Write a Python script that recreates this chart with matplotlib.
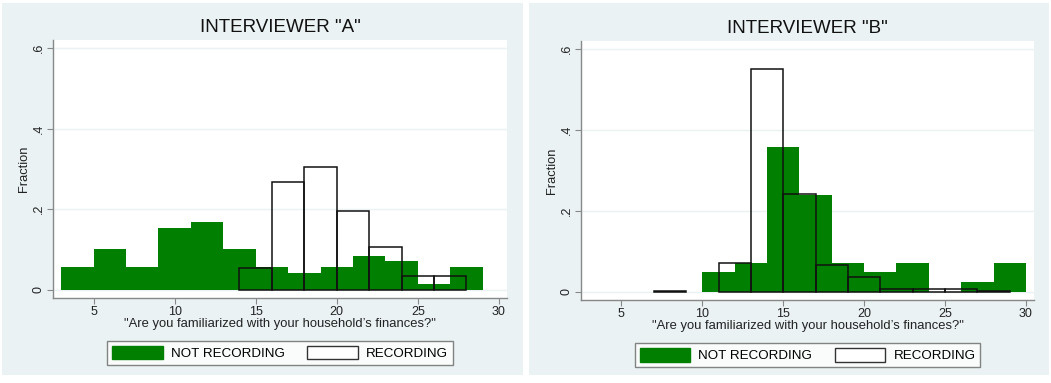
import numpy as np
import matplotlib.pyplot as plt
from matplotlib.patches import Rectangle, Patch

plt.rcParams['font.family'] = ['Liberation Sans', 'DejaVu Sans']

# interviewer A
a_not_start = [3, 5, 7, 9, 11, 13, 15, 17, 19, 21, 23, 25, 27]
a_not_frac = [0.056, 0.101, 0.056, 0.154, 0.169, 0.101, 0.056, 0.043, 0.056, 0.085, 0.071, 0.014, 0.056]
a_rec_start = [14, 16, 18, 20, 22, 24, 26]
a_rec_frac = [0.055, 0.268, 0.304, 0.197, 0.107, 0.035, 0.035]

# interviewer B
b_not_start = [10, 12, 14, 16, 18, 20, 22, 24, 26, 28]
b_not_frac = [0.049, 0.071, 0.358, 0.240, 0.071, 0.049, 0.071, 0.0, 0.025, 0.071]
b_rec_start = [7, 11, 13, 15, 17, 19, 21, 23, 25, 27]
b_rec_frac = [0.003, 0.072, 0.551, 0.241, 0.067, 0.036, 0.008, 0.008, 0.008, 0.003]

bin_w = 2
titles = ['INTERVIEWER "A"', 'INTERVIEWER "B"']
xlabel = '"Are you familiarized with your household\u2019s finances?"'

BG = '#eaf2f3'
GREEN = '#007f00'
W, H = 1051, 383

fig = plt.figure(figsize=(W / 100, H / 100), dpi=100)
fig.patch.set_facecolor('white')

def px(x0, y0, x1, y1):
    return [x0 / W, 1 - y1 / H, (x1 - x0) / W, (y1 - y0) / H]

panels = [(2, 3, 523, 375), (529, 3, 1049, 375)]
axes_px = [(53, 40, 507, 298), (581, 41, 1034, 300)]
data = [(a_not_start, a_not_frac, a_rec_start, a_rec_frac),
        (b_not_start, b_not_frac, b_rec_start, b_rec_frac)]

for i in range(2):
    p = panels[i]
    fig.patches.append(Rectangle((p[0] / W, 1 - p[3] / H), (p[2] - p[0]) / W, (p[3] - p[1]) / H,
                                 transform=fig.transFigure, facecolor=BG, edgecolor='none', zorder=-5))
    ax = fig.add_axes(px(*axes_px[i]))
    ns, nf, rs, rf = data[i]
    ax.bar(ns, nf, width=bin_w, align='edge', color=GREEN, edgecolor='none', zorder=2)
    ax.bar(rs, rf, width=bin_w, align='edge', facecolor='none', edgecolor='#111111', linewidth=1.1, zorder=3)

    ax.set_xlim(2.5, 30.5)
    ax.set_ylim(-0.02, 0.62)
    ax.set_facecolor('white')
    ax.set_xticks([5, 10, 15, 20, 25, 30])
    ax.set_yticks([0, 0.2, 0.4, 0.6])
    ax.set_yticklabels(['0', '.2', '.4', '.6'], rotation=90, va='center')
    ax.grid(axis='y', color=BG, linewidth=1.0, zorder=0)
    ax.set_axisbelow(True)
    for s in ['top', 'right']:
        ax.spines[s].set_visible(False)
    for s in ['left', 'bottom']:
        ax.spines[s].set_color('#888888')
        ax.spines[s].set_linewidth(1.0)
    ax.tick_params(colors='#888888', labelcolor='#222222', labelsize=9, length=4, width=0.8)
    ax.tick_params(axis='y', pad=2)
    ax.tick_params(axis='x', pad=2)
    ax.set_ylabel('Fraction', fontsize=9.3, color='#222222', labelpad=2)
    ax.set_xlabel(xlabel, fontsize=9.4, color='#222222', labelpad=0)
    ax.set_title(titles[i], fontsize=13.5, color='#111111', pad=6)

    handles = [Patch(facecolor=GREEN, edgecolor=GREEN),
               Patch(facecolor='white', edgecolor='#333333', linewidth=1.0)]
    leg = ax.legend(handles, ['NOT RECORDING', 'RECORDING'], ncol=2, loc='upper center',
                    bbox_to_anchor=(0.5, -0.167), borderaxespad=0, fontsize=9.6, frameon=True,
                    fancybox=False, edgecolor='#666666', handlelength=3.8, handleheight=1.2,
                    columnspacing=1.7, borderpad=0.35, handletextpad=0.6)
    leg.get_frame().set_linewidth(1.0)

fig.savefig('out.png', dpi=100, facecolor=fig.get_facecolor())
